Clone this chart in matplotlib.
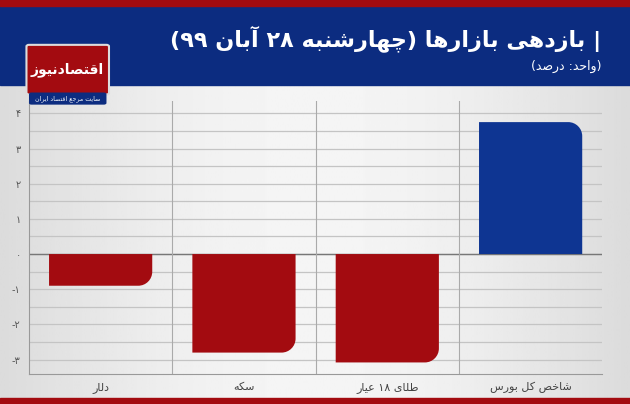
import numpy as np
import matplotlib.pyplot as plt
from matplotlib.path import Path
from matplotlib.patches import PathPatch, Rectangle, FancyBboxPatch

categories = ['دلار', 'سکه', 'طلای ۱۸ عیار', 'شاخص کل بورس']
values = [-0.9, -2.8, -3.08, 3.75]
bar_colors = ['#a30b10', '#a30b10', '#a30b10', '#0e3592']
yticks = [4, 3, 2, 1, 0, -1, -2, -3]
title = '| بازدهی بازارها (چهارشنبه ۲۸ آبان ۹۹)'
subtitle = '(واحد: درصد)'

# ---- minimal Persian shaping (presentation forms) ----
FORMS = {
    'ا': (0xFE8D, 0xFE8E, None, None), 'آ': (0xFE81, 0xFE82, None, None),
    'ب': (0xFE8F, 0xFE90, 0xFE91, 0xFE92), 'ت': (0xFE95, 0xFE96, 0xFE97, 0xFE98),
    'ج': (0xFE9D, 0xFE9E, 0xFE9F, 0xFEA0), 'چ': (0xFB7A, 0xFB7B, 0xFB7C, 0xFB7D),
    'ح': (0xFEA1, 0xFEA2, 0xFEA3, 0xFEA4), 'خ': (0xFEA5, 0xFEA6, 0xFEA7, 0xFEA8),
    'د': (0xFEA9, 0xFEAA, None, None), 'ر': (0xFEAD, 0xFEAE, None, None),
    'ز': (0xFEAF, 0xFEB0, None, None), 'س': (0xFEB1, 0xFEB2, 0xFEB3, 0xFEB4),
    'ش': (0xFEB5, 0xFEB6, 0xFEB7, 0xFEB8), 'ص': (0xFEB9, 0xFEBA, 0xFEBB, 0xFEBC),
    'ط': (0xFEC1, 0xFEC2, 0xFEC3, 0xFEC4), 'ع': (0xFEC9, 0xFECA, 0xFECB, 0xFECC),
    'ف': (0xFED1, 0xFED2, 0xFED3, 0xFED4), 'ق': (0xFED5, 0xFED6, 0xFED7, 0xFED8),
    'ک': (0xFB8E, 0xFB8F, 0xFB90, 0xFB91), 'ل': (0xFEDD, 0xFEDE, 0xFEDF, 0xFEE0),
    'م': (0xFEE1, 0xFEE2, 0xFEE3, 0xFEE4), 'ن': (0xFEE5, 0xFEE6, 0xFEE7, 0xFEE8),
    'ه': (0xFEE9, 0xFEEA, 0xFEEB, 0xFEEC), 'و': (0xFEED, 0xFEEE, None, None),
    'ی': (0xFBFC, 0xFBFD, 0xFBFE, 0xFBFF),
}
MIRROR = {'(': ')', ')': '('}


def shape(s):
    out = []
    for i, c in enumerate(s):
        if c not in FORMS:
            out.append(c)
            continue
        prev = s[i - 1] if i > 0 else ''
        nxt = s[i + 1] if i + 1 < len(s) else ''
        jp = prev in FORMS and FORMS[prev][2] is not None
        jn = nxt in FORMS and FORMS[c][2] is not None
        f = FORMS[c]
        if jp and jn:
            out.append(chr(f[3]))
        elif jp:
            out.append(chr(f[1]))
        elif jn:
            out.append(chr(f[2]))
        else:
            out.append(chr(f[0]))
    return ''.join(out)


def fa(s):
    s = shape(s)
    # reverse to visual order, keeping digit runs left-to-right
    tokens, buf = [], ''
    for c in s:
        if c.isdigit():
            buf += c
        else:
            if buf:
                tokens.append(buf)
                buf = ''
            tokens.append(MIRROR.get(c, c))
    if buf:
        tokens.append(buf)
    return ''.join(tokens[::-1])


def fa_num(v):
    d = '۰۱۲۳۴۵۶۷۸۹'
    s = ''.join(d[int(ch)] for ch in str(abs(v)))
    return ('-' + s) if v < 0 else s


plt.rcParams['font.family'] = ['DejaVu Sans']

fig = plt.figure(figsize=(6.3, 4.04), dpi=100)
fig.patch.set_facecolor('#e9e9e9')

# background gradient
bg = fig.add_axes([0, 0, 1, 1], zorder=-5)
grad = np.linspace(0, 1, 256)[None, :]
bg.imshow(0.86 + 0.10 * np.sin(grad * np.pi), cmap='gray', vmin=0, vmax=1,
          aspect='auto', extent=[0, 1, 0, 1])
bg.set_xlim(0, 1); bg.set_ylim(0, 1); bg.axis('off')

# header bands
fig.patches.append(Rectangle((0, 0.79), 1, 0.21, transform=fig.transFigure,
                             color='#0c2c80', zorder=1))
fig.patches.append(Rectangle((0, 0.985), 1, 0.015, transform=fig.transFigure,
                             color='#a30b10', zorder=2))
fig.patches.append(Rectangle((0, 0), 1, 0.014, transform=fig.transFigure,
                             color='#a30b10', zorder=2))
fig.text(0.955, 0.905, fa(title), color='white', fontsize=16, fontweight='bold',
         ha='right', va='center')
fig.text(0.955, 0.835, fa(subtitle), color='white', fontsize=9, ha='right', va='center')

# logo
fig.patches.append(FancyBboxPatch((0.046, 0.77), 0.123, 0.115, transform=fig.transFigure,
                                  boxstyle='round,pad=0.004', fc='#a30b10', ec='#dddddd',
                                  lw=1.5, zorder=3))
fig.text(0.107, 0.828, fa('اقتصادنیوز'), color='white', fontsize=10, fontweight='bold',
         ha='center', va='center', zorder=4)
fig.patches.append(FancyBboxPatch((0.05, 0.745), 0.115, 0.022, transform=fig.transFigure,
                                  boxstyle='round,pad=0.004', fc='#0c2c80', ec='none', zorder=3))
fig.text(0.107, 0.756, fa('سایت مرجع اقتصاد ایران'), color='white', fontsize=4.5,
         ha='center', va='center', zorder=4)

ax = fig.add_axes([0.046, 0.075, 0.91, 0.675])
ax.set_facecolor('none')
ax.set_xlim(-0.5, len(categories) - 0.5)
ax.set_ylim(-3.4, 4.35)

for y in np.arange(-3.5, 4.5, 0.5):
    ax.axhline(y, color='#c4c4c4', lw=0.9, zorder=0)
ax.axhline(0, color='#777777', lw=1.0, zorder=0)
for x in np.arange(0.5, len(categories) - 0.5, 1):
    ax.axvline(x, color='#aaaaaa', lw=0.8, zorder=0)

# bars with one rounded outer corner
width = 0.72
rpx = 14
bbox = ax.get_position()
xpx = bbox.width * fig.get_figwidth() * fig.dpi / (len(categories))
ypx = bbox.height * fig.get_figheight() * fig.dpi / (4.35 + 3.4)
rx, ry = rpx / xpx, rpx / ypx
k = 0.5523
for i, (v, c) in enumerate(zip(values, bar_colors)):
    x0, x1 = i - width / 2, i + width / 2
    s = 1 if v > 0 else -1
    verts = [(x0, 0), (x0, v), (x1 - rx, v),
             (x1 - rx + k * rx, v), (x1, v - s * ry + s * k * ry), (x1, v - s * ry),
             (x1, 0), (x0, 0)]
    codes = [Path.MOVETO, Path.LINETO, Path.LINETO,
             Path.CURVE4, Path.CURVE4, Path.CURVE4,
             Path.LINETO, Path.CLOSEPOLY]
    ax.add_patch(PathPatch(Path(verts, codes), fc=c, ec='none', zorder=2))

ax.set_yticks(yticks)
ax.set_yticklabels([fa_num(t) for t in yticks], fontsize=7, color='#555555')
ax.set_xticks(range(len(categories)))
ax.set_xticklabels([fa(c) for c in categories], fontsize=8, color='#444444')
ax.tick_params(length=0, pad=6)
for side in ['top', 'right']:
    ax.spines[side].set_visible(False)
for side in ['left', 'bottom']:
    ax.spines[side].set_color('#999999')

fig.savefig('out.png', dpi=100, facecolor=fig.get_facecolor())
